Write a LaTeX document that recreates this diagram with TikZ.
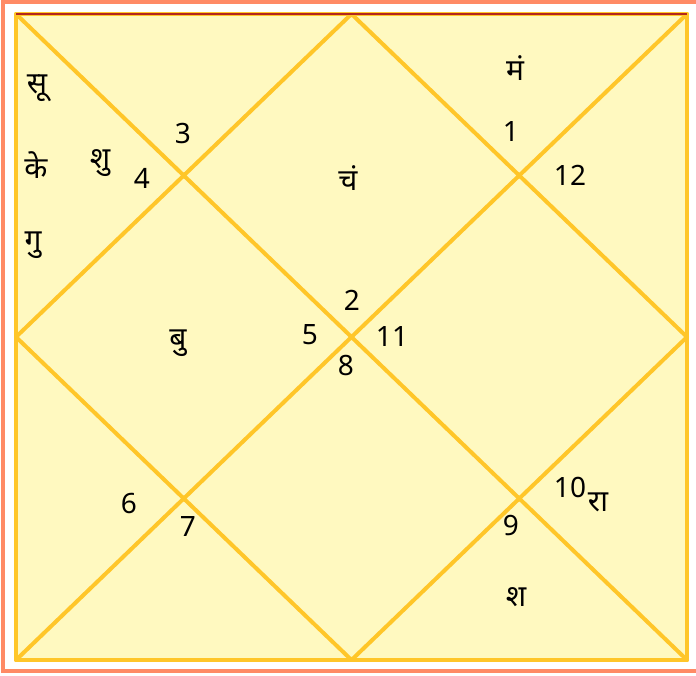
\documentclass[tikz,border=0pt]{standalone}
\usepackage{fontspec}
\setmainfont{Noto Sans}
\newfontfamily\dev[Script=Devanagari]{Noto Sans}
\definecolor{frameor}{HTML}{FF8A65}
\definecolor{boxfill}{HTML}{FFF9C0}
\definecolor{gridline}{HTML}{FFC629}
\definecolor{topred}{HTML}{B3261E}
\begin{document}
\begin{tikzpicture}[x=1pt,y=-1pt,
  num/.style={font=\fontsize{28}{28}\selectfont, inner sep=0pt},
  planet/.style={font=\dev\fontsize{30}{30}\selectfont, inner sep=0pt},
  grid/.style={draw=gridline, line width=4pt, line cap=round, line join=round}]
\useasboundingbox (0,0) rectangle (696,675);
\fill[white] (0,0) rectangle (696,675);
\draw[frameor, line width=4pt] (3,2) rectangle (702,671);
\coordinate (TL) at (16,14);
\coordinate (TR) at (687,14);
\coordinate (BR) at (687,660);
\coordinate (BL) at (16,660);
\coordinate (T) at (351.5,14);
\coordinate (R) at (687,337);
\coordinate (B) at (351.5,660);
\coordinate (L) at (16,337);
\fill[boxfill] (TL) rectangle (BR);
\draw[grid] (TL) rectangle (BR);
\draw[grid] (TL) -- (BR);
\draw[grid] (TR) -- (BL);
\draw[grid] (T) -- (R) -- (B) -- (L) -- cycle;
\draw[topred, line width=2pt] (TL) -- (TR);
% numbers
\node[num] (n1) at (511,132) {1};
\node[num] (n2) at (352,300) {2};
\node[num] (n3) at (183,133) {3};
\node[num] (n4) at (142,178) {4};
\node[num] (n5) at (310,335) {5};
\node[num] (n6) at (129,503) {6};
\node[num] (n7) at (188,526) {7};
\node[num] (n8) at (346,365) {8};
\node[num] (n9) at (511,525) {9};
\node[num] (n10) at (570,487) {10};
\node[num] (n11) at (392,336) {11};
\node[num] (n12) at (570,175) {12};
% planets
\node[planet] (su) at (37,88) {सू};
\node[planet] (ke) at (36,165) {के};
\node[planet] (shu) at (100,163) {शु};
\node[planet] (gu) at (33,245) {गु};
\node[planet] (chan) at (348,178) {चं};
\node[planet] (man) at (515,68) {मं};
\node[planet] (bu) at (178,343) {बु};
\node[planet] (ra) at (598,502) {रा};
\node[planet] (sha) at (516,597) {श};
\end{tikzpicture}
\end{document}
